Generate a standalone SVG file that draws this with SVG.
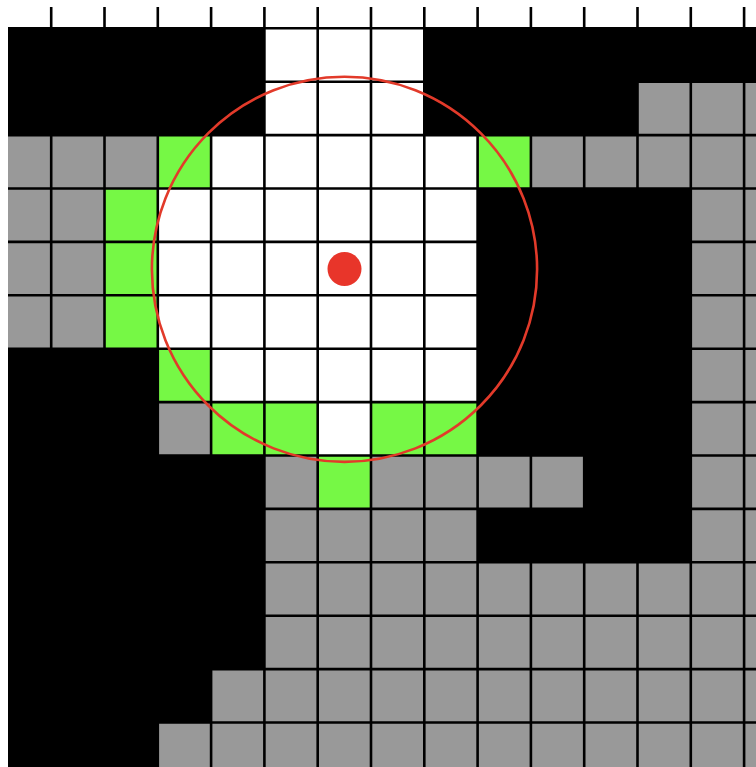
<svg xmlns="http://www.w3.org/2000/svg" width="756" height="767" viewBox="0 0 756 767">
<style>
.k{fill:#000000}
.w{fill:#ffffff}
.g{fill:#999999}
.n{fill:#76f845}
.grid{stroke:#000000;stroke-width:2.6;fill:none}
.ring{fill:none;stroke:#e23a2a;stroke-width:2.6}
.dot{fill:#e8352a}
</style>
<rect x="0" y="0" width="756" height="767" fill="#ffffff"/>
<g id="cells">
<rect class="k" x="8" y="28.3" width="748" height="738.7"/>
<!-- row 0 -->
<rect class="w" x="264.4" y="28.3" width="159.9" height="53.4"/>
<!-- row 1 -->
<rect class="w" x="264.4" y="81.7" width="159.9" height="53.4"/>
<rect class="g" x="637.5" y="81.7" width="118.5" height="53.4"/>
<!-- row 2 -->
<rect class="g" x="8" y="135.1" width="149.8" height="53.4"/>
<rect class="n" x="157.8" y="135.1" width="53.3" height="53.4"/>
<rect class="w" x="211.1" y="135.1" width="266.5" height="53.4"/>
<rect class="n" x="477.6" y="135.1" width="53.3" height="53.4"/>
<rect class="g" x="530.9" y="135.1" width="225.1" height="53.4"/>
<!-- rows 3-5 -->
<rect class="g" x="8" y="188.5" width="96.5" height="160.2"/>
<rect class="n" x="104.5" y="188.5" width="53.3" height="160.2"/>
<rect class="w" x="157.8" y="188.5" width="319.8" height="160.2"/>
<!-- right grey column rows 3-9 -->
<rect class="g" x="690.8" y="188.5" width="65.2" height="373.8"/>
<!-- row 6 -->
<rect class="n" x="157.8" y="348.7" width="53.3" height="53.4"/>
<rect class="w" x="211.1" y="348.7" width="266.5" height="53.4"/>
<!-- row 7 -->
<rect class="g" x="157.8" y="402.1" width="53.3" height="53.4"/>
<rect class="n" x="211.1" y="402.1" width="106.6" height="53.4"/>
<rect class="w" x="317.7" y="402.1" width="53.3" height="53.4"/>
<rect class="n" x="371" y="402.1" width="106.6" height="53.4"/>
<!-- row 8 -->
<rect class="g" x="264.4" y="455.5" width="53.3" height="53.4"/>
<rect class="n" x="317.7" y="455.5" width="53.3" height="53.4"/>
<rect class="g" x="371" y="455.5" width="213.2" height="53.4"/>
<!-- row 9 -->
<rect class="g" x="264.4" y="508.9" width="213.2" height="53.4"/>
<!-- rows 10-11 -->
<rect class="g" x="264.4" y="562.3" width="491.6" height="106.8"/>
<!-- row 12 -->
<rect class="g" x="211.1" y="669.1" width="544.9" height="53.4"/>
<!-- row 13 -->
<rect class="g" x="157.8" y="722.5" width="598.2" height="44.5"/>
</g>
<g id="connectors">
<path class="grid" d="M51.2 7V767M104.5 7V767M157.8 7V767M211.1 7V767M264.4 7V767M317.7 7V767M371 7V767M424.3 7V767M477.6 7V767M530.9 7V767M584.2 7V767M637.5 7V767M690.8 7V767M744.1 7V767"/>
<path class="grid" d="M8 28.3H756M8 81.7H756M8 135.1H756M8 188.5H756M8 241.9H756M8 295.3H756M8 348.7H756M8 402.1H756M8 455.5H756M8 508.9H756M8 562.3H756M8 615.7H756M8 669.1H756M8 722.5H756"/>
</g>
<g id="range">
<circle class="ring" cx="344.5" cy="269.3" r="192.6"/>
</g>
<g id="center">
<circle class="dot" cx="344.5" cy="269" r="17"/>
</g>
</svg>
